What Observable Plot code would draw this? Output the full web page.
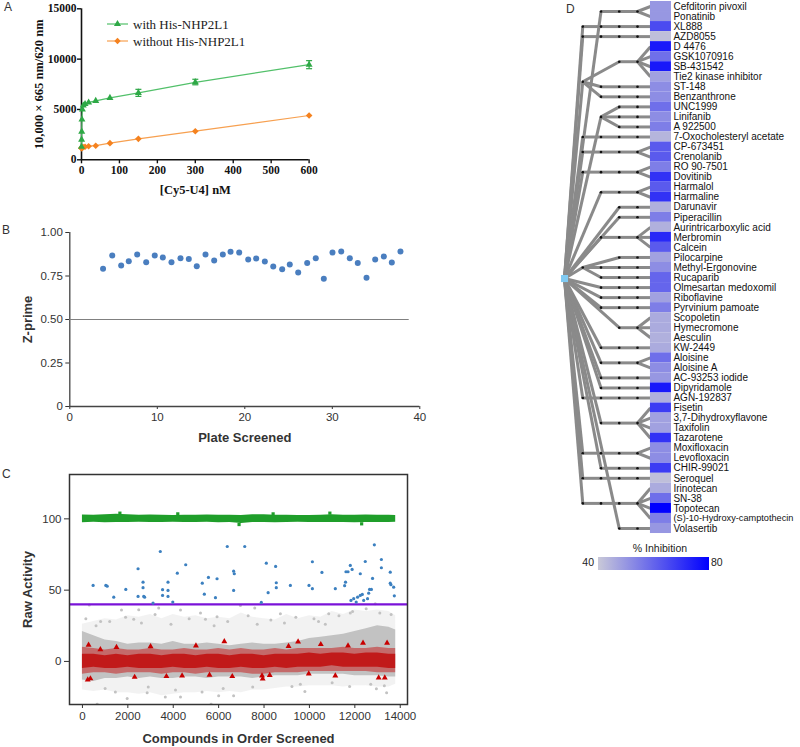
<!DOCTYPE html>
<html><head><meta charset="utf-8">
<script src="https://cdn.jsdelivr.net/npm/d3@7"></script>
<script src="https://cdn.jsdelivr.net/npm/@observablehq/plot@0.6"></script>
<style>
body{margin:0;background:#fff;}
#fig{position:relative;width:800px;height:747px;overflow:hidden;font-family:"Liberation Sans",Arial,sans-serif;}
.letter{position:absolute;font-size:12px;color:#333;font-family:"Liberation Sans",Arial,sans-serif;}
</style></head><body><div id="fig"></div>
<script>
const SANS = '"Liberation Sans", Arial, sans-serif';
const SERIF = '"Liberation Serif", "Times New Roman", serif';

// ---------- Panel A data ----------
const concA = [0, 0.29, 0.59, 1.17, 2.34, 4.69, 9.38, 18.75, 37.5, 75, 150, 300, 600];
const withNHP = [1300, 2000, 2800, 4000, 5000, 5400, 5550, 5700, 5850, 6150, 6650, 7700, 9450];
const withoutNHP = [1150, 1150, 1200, 1200, 1250, 1250, 1300, 1350, 1400, 1650, 2080, 2840, 4400];
const errConcA = [150, 300, 600];
const errLoA = [6300, 7450, 9050];
const errHiA = [7000, 8000, 9850];
const xTicksA = [0, 100, 200, 300, 400, 500, 600];
const yTicksA = [0, 5000, 10000, 15000];

// ---------- Panel B data ----------
const plateB = [3.8, 4.85, 5.87, 6.74, 7.7, 8.73, 9.71, 10.63, 11.62, 12.65, 13.6, 14.51, 15.51, 16.5, 17.49, 18.37, 19.36, 20.39, 21.3, 22.29, 23.25, 24.27, 25.14, 26.1, 27.13, 28.11, 29.03, 30.02, 31.02, 32.0, 32.91, 33.91, 34.9, 35.89, 36.8, 37.79];
const zprimeB = [0.791, 0.868, 0.810, 0.835, 0.873, 0.829, 0.868, 0.856, 0.829, 0.852, 0.847, 0.806, 0.873, 0.839, 0.873, 0.889, 0.885, 0.845, 0.851, 0.833, 0.805, 0.789, 0.816, 0.770, 0.824, 0.852, 0.734, 0.885, 0.891, 0.852, 0.824, 0.740, 0.845, 0.862, 0.828, 0.891];
const xTicksB = [0, 10, 20, 30, 40];
const yTicksB = [0, 0.25, 0.5, 0.75, 1];
const thresholdB = 0.5;

// ---------- Panel C data ----------
const bandX = [0, 500, 1000, 1500, 2000, 2500, 3000, 3500, 4000, 4500, 5000, 5500, 6000, 6500, 7000, 7500, 8000, 8500, 9000, 9500, 10000, 10500, 11000, 11500, 12000, 12500, 13000, 13500, 13800];
const greenLo = [97.3, 97.6, 97.2, 97.5, 97.4, 97.6, 97.4, 97.5, 97.6, 97.4, 97.5, 97.6, 97.3, 97.4, 96.8, 97.5, 97.4, 97.3, 97.5, 97.6, 97.4, 97.5, 97.5, 97.4, 97.3, 97.5, 97.4, 97.5, 97.6];
const greenHi = [102.7, 102.5, 102.8, 103.2, 102.9, 102.6, 102.7, 102.5, 102.4, 102.6, 102.5, 102.7, 102.6, 102.5, 102.4, 102.8, 102.8, 102.6, 102.5, 102.4, 102.3, 102.5, 102.8, 102.6, 102.5, 102.7, 102.6, 102.5, 102.4];
const greyHi = [21, 18, 15, 14, 12, 13, 13, 12, 14, 12, 12, 13, 12, 11, 12, 13, 12, 12, 13, 14, 16, 17, 18, 19, 21, 23, 25, 24, 22];
const greyLo = [-13, -14, -12, -12, -11, -12, -11, -12, -12, -11, -11, -12, -11, -11, -11, -12, -11, -10, -10, -10, -9, -9, -9, -9, -10, -10, -10, -11, -11];
const greyOuterHi = [26, 28, 30, 29, 32, 31, 33, 30, 33, 31, 32, 30, 31, 30, 34, 31, 30, 29, 33, 30, 32, 31, 35, 33, 36, 35, 36, 35, 32];
const greyOuterLo = [-20, -21, -20, -22, -22, -23, -22, -24, -23, -22, -22, -21, -22, -21, -22, -20, -20, -19, -18, -18, -17, -17, -17, -18, -17, -17, -18, -18, -16];
const redHi = [10, 9, 8, 9, 8, 8, 9, 8, 8, 9, 8, 8, 9, 8, 9, 8, 8, 9, 8, 9, 9, 9, 9, 10, 9, 9, 10, 9, 9];
const redLo = [-9, -8, -8, -9, -8, -8, -8, -9, -8, -8, -9, -8, -8, -8, -8, -9, -9, -8, -8, -8, -7, -7, -7, -7, -7, -7, -8, -8, -8];
const redCoreHi = [5, 5, 4, 5, 4, 5, 5, 4, 5, 5, 4, 5, 5, 4, 5, 5, 4, 5, 5, 5, 6, 5, 6, 6, 5, 6, 6, 5, 5];
const redCoreLo = [-5, -4, -5, -5, -4, -5, -5, -5, -4, -5, -5, -4, -5, -5, -4, -5, -5, -4, -5, -4, -4, -4, -3, -4, -4, -4, -4, -5, -5];
const hitX = [470, 1030, 1090, 1380, 1910, 2450, 2450, 2670, 2670, 2700, 2740, 3110, 3430, 3530, 3530, 3770, 3770, 3770, 3980, 4180, 4550, 5280, 5370, 5550, 5860, 5930, 6380, 6660, 6690, 6660, 7150, 7880, 8100, 8180, 8510, 8540, 8540, 9160, 9980, 10130, 10130, 10550, 11140, 11550, 11590, 11610, 11700, 11800, 11880, 11830, 11950, 12060, 12120, 12240, 12240, 12330, 12390, 12460, 12560, 12610, 12650, 12730, 12780, 12860, 13170, 13170, 13560, 13560, 13590, 13710, 13740];
const hitY = [53.3, 53.3, 52.8, 45.1, 50.5, 65.0, 45.6, 55.6, 51.7, 45.6, 45.1, 40.9, 77.1, 50.3, 46.3, 55.6, 49.8, 45.6, 41.6, 61.9, 67.8, 54.9, 47.2, 58.9, 44.7, 58.0, 80.6, 63.3, 61.5, 49.8, 80.6, 41.4, 68.9, 48.2, 66.6, 55.2, 51.7, 53.3, 53.3, 51.0, 69.9, 62.4, 51.0, 53.1, 55.6, 62.9, 62.9, 67.3, 64.5, 42.8, 44.0, 41.6, 45.1, 61.5, 46.3, 47.0, 42.8, 70.1, 44.0, 47.9, 50.5, 50.5, 58.2, 81.8, 71.5, 65.7, 62.6, 54.9, 53.8, 52.1, 46.0];
const greyOutX = [1720, 2480, 2260, 3360, 4320, 5420, 5930, 6960, 7590, 8720, 650, 1450, 1970, 2850, 3650, 4320, 5270, 5670, 6000, 6660, 11770, 12950, 12240, 9230, 11800, 10850, 12900, 300, 800, 9800, 10400, 13400, 150, 600, 1200, 1900, 2600, 3200, 3900, 4700, 5200, 5800, 6400, 7300, 7700, 8300, 8900, 9400, 10200, 10700, 11300, 11900, 12500, 13100, 13600, 1000, 2900, 4100, 6200, 7500, 9600, 11000, 12700, 13300];
const greyOutY = [36, 36.2, 29.5, 37.4, 36, 29.5, 31.4, 39.3, 37.4, 33.4, -30, -21.5, -26, -22, -25, -25, -21.5, -30, -24, -24, -17.5, -19.1, -31, -17.5, 33.9, 33.4, 40.5, 39.5, 28, -21, 28, -22, 30, 25, 28, 31, 27, 33, 26, 30, 34, 25, 28, 32, 26, 29, 27, 31, 30, 26, 32, 35, 37, 34, 33, -19, -18, -20, -19, -18, -16, -15, -16, -17];
const redOutX = [233, 350, 270, 790, 1500, 2300, 3000, 3700, 4390, 5000, 5600, 6250, 6600, 7910, 7940, 8250, 9080, 9500, 9970, 10500, 11140, 11700, 12360, 13050, 13320, 13420];
const redOutY = [-12.8, -12, 11.5, 8.4, 10, -11, 10.5, -10.5, -10, 11, -9.5, 14, -10.5, -10, -12.2, -9.7, 10.7, 13.8, -8.6, 12, -10, 11, 12.9, -11.4, -11.4, 12.9];
const greenOutX = [1650, 4200, 6900, 8400, 10900, 12300];
const greenOutY = [104, 103.5, 96, 103.5, 104, 96.5];
const cutoffC = 40;
const xTicksC = [0, 2000, 4000, 6000, 8000, 10000, 12000, 14000];
const yTicksC = [0, 50, 100];

// ---------- Panel D data ----------
const compounds = ["Cefditorin pivoxil","Ponatinib","XL888","AZD8055","D 4476","GSK1070916","SB-431542","Tie2 kinase inhibitor","ST-148","Benzanthrone","UNC1999","Linifanib","A 922500","7-Oxocholesteryl acetate","CP-673451","Crenolanib","RO 90-7501","Dovitinib","Harmalol","Harmaline","Darunavir","Piperacillin","Aurintricarboxylic acid","Merbromin","Calcein","Pilocarpine","Methyl-Ergonovine","Rucaparib","Olmesartan medoxomil","Riboflavine","Pyrvinium pamoate","Scopoletin","Hymecromone","Aesculin","KW-2449","Aloisine","Aloisine A","AC-93253 iodide","Dipyridamole","AGN-192837","Fisetin","3,7-Dihydroxyflavone","Taxifolin","Tazarotene","Moxifloxacin","Levofloxacin","CHIR-99021","Seroquel","Irinotecan","SN-38","Topotecan","(S)-10-Hydroxy-camptothecin","Volasertib"];
const inhibition = [50, 50, 65, 42, 75, 58, 75, 48, 52, 52, 58, 52, 55, 44, 62, 62, 55, 70, 62, 70, 45, 55, 45, 72, 62, 48, 52, 60, 60, 48, 55, 46, 46, 45, 46, 58, 52, 50, 75, 45, 68, 48, 48, 70, 52, 52, 68, 42, 46, 58, 80, 55, 50];
const clusterFirst = [0,2,3,4,8,9,10,13,14,16,18,20,21,22,25,26,27,28,29,30,31,34,35,37,38,39,40,44,46,47,48,52];
const clusterLast  = [1,2,3,7,8,9,12,13,15,17,19,20,21,24,25,26,27,28,29,30,33,34,36,37,38,39,43,45,46,47,51,52];
const clusterEntry = [2,1,1,3,2,2,2,1,1,1,2,3,3,2,3,2,2,2,2,2,3,2,2,2,2,1,2,1,2,1,1,3];
const clusterFan   = [4,4,4,4,4,4,2,4,4,4,4,4,4,4,4,4,4,4,4,4,4,4,4,4,4,4,4,4,4,4,4,4];
const clusterHub   = [-1,-1,-1,0,0,0,-1,-1,-1,-1,-1,-1,-1,-1,1,1,1,-1,-1,-1,-1,-1,-1,-1,-1,-1,-1,-1,-1,-1,-1,-1];
const rootRow = 27.1;
const inhibitionDomain = [40, 80];
const inhibitionColors = ["#c9c9d8", "#0000ff"];

// ---------- layout helpers ----------
const fig = document.getElementById("fig");
function place(node, left, top) {
  node.style.position = "absolute";
  node.style.left = left + "px";
  node.style.top = top + "px";
  fig.appendChild(node);
  return node;
}
function letter(t, left, top) {
  const d = document.createElement("div");
  d.className = "letter"; d.textContent = t;
  d.style.left = left + "px"; d.style.top = top + "px";
  fig.appendChild(d);
}
function yLabel(t, dx, size) {
  return Plot.text([t], {text: d => d, frameAnchor: "left", textAnchor: "middle", lineAnchor: "middle", rotate: -90, dx, fontSize: size, fontWeight: "bold"});
}
function xLabel(t, dy, size) {
  return Plot.text([t], {text: d => d, frameAnchor: "bottom", textAnchor: "middle", lineAnchor: "middle", dy, fontSize: size, fontWeight: "bold"});
}

// ---------- Panel A ----------
const gA = "#2ea846", gALine = "#52c06a", oA = "#f5821f", oALine = "#f7a050";
const hbar = {draw(ctx, size) { const w = Math.sqrt(size / Math.PI) * 1.2; ctx.moveTo(-w, 0); ctx.lineTo(w, 0); }};
const idxA = d3.range(concA.length);
const idxE = d3.range(errConcA.length);
const plotA = Plot.plot({
  width: 320, height: 200,
  marginLeft: 81, marginRight: 11.4, marginTop: 8.3, marginBottom: 40.7,
  x: {domain: [0, 600]}, y: {domain: [0, 15000]},
  style: {fontFamily: SERIF, fontSize: "11.5px", fontWeight: "bold", color: "#111", background: "transparent", overflow: "visible"},
  marks: [
    Plot.axisX({ticks: xTicksA, tickSize: 4, tickPadding: 2, label: null, strokeWidth: 1.4}),
    Plot.axisY({ticks: yTicksA, tickSize: 4, tickPadding: 1, label: null, tickFormat: d => String(d), strokeWidth: 1.4}),
    Plot.ruleY([0], {x1: 0, x2: 600, stroke: "#111", strokeWidth: 1.6}),
    Plot.ruleX([0], {y1: 0, y2: 15000, stroke: "#111", strokeWidth: 1.6}),
    yLabel("10,000 × 665 nm/620 nm", -43, 12.5),
    xLabel("[Cy5-U4] nM", 30, 12.5),
    Plot.line(idxA, {x: i => concA[i], y: i => withoutNHP[i], stroke: oALine, strokeWidth: 1.2}),
    Plot.dot(idxA, {x: i => concA[i], y: i => withoutNHP[i], symbol: "diamond2", r: 3, fill: oA}),
    Plot.line(idxA, {x: i => concA[i], y: i => withNHP[i], stroke: gALine, strokeWidth: 1.2}),
    Plot.ruleX(idxE, {x: i => errConcA[i], y1: i => errLoA[i], y2: i => errHiA[i], stroke: gA, strokeWidth: 1.2}),
    Plot.dot(idxE, {x: i => errConcA[i], y: i => errLoA[i], symbol: hbar, r: 2.5, stroke: gA, strokeWidth: 1.2}),
    Plot.dot(idxE, {x: i => errConcA[i], y: i => errHiA[i], symbol: hbar, r: 2.5, stroke: gA, strokeWidth: 1.2}),
    Plot.dot(idxA, {x: i => concA[i], y: i => withNHP[i], symbol: "triangle", r: 2.6, fill: gA})
  ]
});
place(plotA, 0, 0);

// legend A (HTML overlay)
const legA = d3.create("svg").attr("width", 200).attr("height", 40);
[[10, gALine, gA, "with His-NHP2L1", "tri"], [27, oALine, oA, "without His-NHP2L1", "dia"]].forEach(([y, lc, mc, label, sym]) => {
  legA.append("line").attr("x1", 7).attr("x2", 28).attr("y1", y).attr("y2", y).attr("stroke", lc).attr("stroke-width", 1.2);
  legA.append("path").attr("transform", `translate(17.5,${y})`)
    .attr("d", d3.symbol(sym === "tri" ? d3.symbolTriangle : d3.symbolDiamond2, sym === "tri" ? 22 : 26)())
    .attr("fill", mc);
  legA.append("text").attr("x", 33).attr("y", y).attr("dy", "0.35em")
    .attr("font-family", SERIF).attr("font-size", 13).attr("fill", "#222").text(label);
});
place(legA.node(), 100, 14);

// ---------- Panel B ----------
const idxB = d3.range(plateB.length);
const plotB = Plot.plot({
  width: 440, height: 230,
  marginLeft: 69.3, marginRight: 20.7, marginTop: 12, marginBottom: 44,
  x: {domain: [0, 40]}, y: {domain: [0, 1]},
  style: {fontFamily: SANS, fontSize: "11.5px", color: "#333", background: "transparent", overflow: "visible"},
  marks: [
    Plot.axisX({ticks: xTicksB, tickSize: 3, tickPadding: 3, label: null}),
    Plot.axisY({ticks: yTicksB, tickSize: 4, tickPadding: 3, label: null, tickFormat: d => d === 0 ? "0" : d.toFixed(2)}),
    Plot.ruleX([0], {y1: 0, y2: 1, stroke: "#444", strokeWidth: 1.3}),
    Plot.ruleY([0], {x1: 0, x2: 40, stroke: "#444", strokeWidth: 1.3}),
    Plot.ruleY([thresholdB], {x1: 0, x2: d3.max(plateB) + 1, stroke: "#808080", strokeWidth: 1.2}),
    Plot.dot(idxB, {x: i => plateB[i], y: i => zprimeB[i], r: 3, fill: "#4a7ebf"}),
    yLabel("Z-prime", -42, 13),
    xLabel("Plate Screened", 31, 13)
  ]
});
place(plotB, 0, 220);

// ---------- Panel C ----------
const idxBand = d3.range(bandX.length);
const plotC = Plot.plot({
  width: 430, height: 292,
  marginLeft: 69, marginRight: 23, marginTop: 19, marginBottom: 43,
  x: {domain: [-570, 14320]}, y: {domain: [-30.2, 131.1]},
  style: {fontFamily: SANS, fontSize: "11.5px", color: "#333", background: "transparent", overflow: "visible"},
  marks: [
    Plot.areaY(idxBand, {x: i => bandX[i], y1: i => greyOuterLo[i], y2: i => greyOuterHi[i], fill: "#c4c4c4", fillOpacity: 0.22, clip: true}),
    Plot.areaY(idxBand, {x: i => bandX[i], y1: i => greyLo[i], y2: i => greyHi[i], fill: "#c2c2c2"}),
    Plot.dot(d3.range(greyOutX.length), {x: i => greyOutX[i], y: i => greyOutY[i], r: 1.5, fill: "#c2c2c2", clip: true}),
    Plot.areaY(idxBand, {x: i => bandX[i], y1: i => redLo[i], y2: i => redHi[i], fill: "#c80000", fillOpacity: 0.45}),
    Plot.areaY(idxBand, {x: i => bandX[i], y1: i => redCoreLo[i], y2: i => redCoreHi[i], fill: "#c00000", fillOpacity: 0.75}),
    Plot.dot(d3.range(redOutX.length), {x: i => redOutX[i], y: i => redOutY[i], symbol: "triangle", r: 2.2, fill: "#c80000"}),
    Plot.areaY(idxBand, {x: i => bandX[i], y1: i => greenLo[i], y2: i => greenHi[i], fill: "#1f9e2a"}),
    Plot.dot(d3.range(greenOutX.length), {x: i => greenOutX[i], y: i => greenOutY[i], symbol: "square", r: 1.8, fill: "#1f9e2a"}),
    Plot.ruleY([cutoffC], {stroke: "#7a12d8", strokeWidth: 2.4}),
    Plot.dot(d3.range(hitX.length), {x: i => hitX[i], y: i => hitY[i], r: 1.6, fill: "#3c80c0"}),
    Plot.frame({stroke: "#333", strokeWidth: 1.5}),
    Plot.axisX({ticks: xTicksC, tickSize: 4, tickPadding: 3, label: null, tickFormat: d => String(d)}),
    Plot.axisY({ticks: yTicksC, tickSize: 5, tickPadding: 3, label: null}),
    yLabel("Raw Activity", -42, 13),
    xLabel("Compounds in Order Screened", 34, 13)
  ]
});
place(plotC, 0, 455);

// ---------- Panel D ----------
const LEAF = 4.71, CELL_END = 5.86;
const hubMembers = {};
clusterHub.forEach((h, k) => { if (h >= 0) (hubMembers[h] = hubMembers[h] || []).push((clusterFirst[k] + clusterLast[k]) / 2); });
const hubRow = Object.keys(hubMembers).map(h => d3.mean(hubMembers[h]));
const links = [], nodes = [];
hubRow.forEach(r => { links.push({x1: 0, y1: rootRow, x2: 1, y2: r}); nodes.push({x: 1, y: r}); });
clusterFirst.forEach((first, k) => {
  const last = clusterLast[k], e = clusterEntry[k], f = clusterFan[k], h = clusterHub[k];
  const c = (first + last) / 2;
  const p = h >= 0 ? {x: 1, y: hubRow[h]} : {x: 0, y: rootRow};
  links.push({x1: p.x, y1: p.y, x2: e, y2: c});
  for (let d = e; d < f; d++) links.push({x1: d, y1: c, x2: d + 1, y2: c});
  for (let d = e; d <= f; d++) nodes.push({x: d, y: c});
  for (let i = first; i <= last; i++) {
    if (f < 4) {
      links.push({x1: f, y1: c, x2: f + 1, y2: i});
      for (let d = f + 1; d < 4; d++) links.push({x1: d, y1: i, x2: d + 1, y2: i});
      for (let d = f + 1; d <= 4; d++) nodes.push({x: d, y: i});
      links.push({x1: 4, y1: i, x2: LEAF, y2: i});
    } else {
      links.push({x1: 4, y1: c, x2: LEAF, y2: i});
    }
  }
});
const idxD = d3.range(compounds.length);
const plotD = Plot.plot({
  width: 250, height: 540,
  marginLeft: 0, marginRight: 0, marginTop: 0, marginBottom: 0,
  x: {domain: [0, 4], range: [14, 87], axis: null},
  y: {domain: [0, 52], range: [6, 528], axis: null},
  color: {type: "linear", domain: inhibitionDomain, range: inhibitionColors, interpolate: "rgb"},
  style: {fontFamily: SANS, fontSize: "10px", color: "#111", background: "transparent"},
  marks: [
    Plot.link(links, {x1: "x1", y1: "y1", x2: "x2", y2: "y2", stroke: "#8a8a8a", strokeWidth: 3}),
    Plot.dot(nodes, {x: "x", y: "y", r: 1.3, fill: "#111"}),
    Plot.rect(idxD, {x1: LEAF, x2: CELL_END, y1: i => i - 0.5, y2: i => i + 0.5, fill: i => inhibition[i]}),
    Plot.text(idxD, {x: CELL_END, y: i => i, text: i => compounds[i], textAnchor: "start", dx: 2, fill: "#111",
      fontSize: i => compounds[i].length > 25 ? 9.2 : 10}),
    Plot.dot([rootRow], {x: 0, y: d => d, symbol: "square", r: 4, fill: "#80caf2"})
  ]
});
place(plotD, 550, 0);

// legend D (HTML overlay)
const legD = document.createElement("div");
legD.style.width = "200px"; legD.style.height = "40px";
legD.innerHTML =
  `<div style="position:absolute;left:30px;top:2px;width:100px;text-align:center;font-size:10.5px;color:#222;">% Inhibition</div>` +
  `<div style="position:absolute;left:18px;top:17px;width:111px;height:13px;background:linear-gradient(to right, ${inhibitionColors[0]}, ${inhibitionColors[1]});"></div>` +
  `<div style="position:absolute;right:186px;top:16px;font-size:10.5px;color:#222;">${inhibitionDomain[0]}</div>` +
  `<div style="position:absolute;left:131px;top:16px;font-size:10.5px;color:#222;">${inhibitionDomain[1]}</div>`;
legD.style.fontFamily = SANS;
place(legD, 580, 540);

letter("A", 4, 0);
letter("B", 2, 223);
letter("C", 2, 467);
letter("D", 566, 2);
</script></body></html>
